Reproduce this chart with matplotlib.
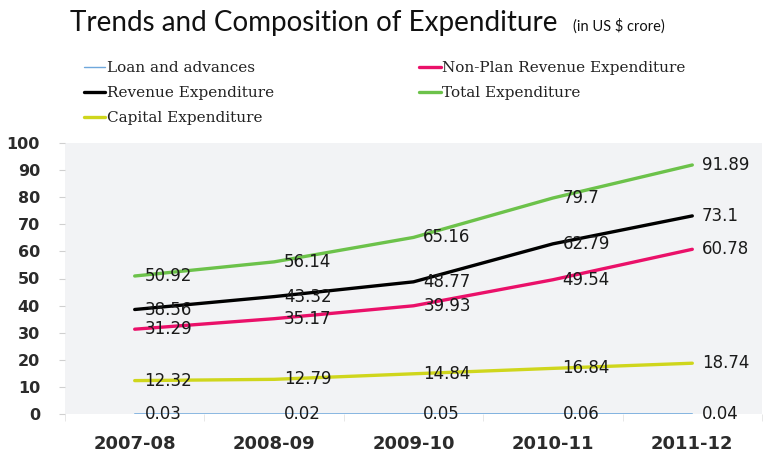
import matplotlib
matplotlib.use('Agg')
import matplotlib.pyplot as plt
import numpy as np

years = ['2007-08', '2008-09', '2009-10', '2010-11', '2011-12']
loan = [0.03, 0.02, 0.05, 0.06, 0.04]
revenue = [38.56, 43.32, 48.77, 62.79, 73.1]
capital = [12.32, 12.79, 14.84, 16.84, 18.74]
nonplan = [31.29, 35.17, 39.93, 49.54, 60.78]
total = [50.92, 56.14, 65.16, 79.7, 91.89]

# legend order (column-wise fill with ncol=2)
series = [
    ('Loan and advances', loan, '#6fa8dc'),
    ('Revenue Expenditure', revenue, '#000000'),
    ('Capital Expenditure', capital, '#cfd61c'),
    ('Non-Plan Revenue Expenditure', nonplan, '#ea1069'),
    ('Total Expenditure', total, '#6cc24a'),
]

fig = plt.figure(figsize=(7.63, 4.55), dpi=100)
ax = fig.add_axes([65/763, 1-414/455, 697/763, 271/455])
ax.set_facecolor('#f2f3f5')
x = np.arange(len(years))

handles = []
for name, vals, col in series:
    loan_line = name == 'Loan and advances'
    h, = ax.plot(x, vals, color=col, lw=1.0 if loan_line else 2.4,
                 solid_capstyle='round', label=name, clip_on=loan_line, zorder=2)
    handles.append(h)
    for xi, v in zip(x, vals):
        ax.annotate(str(v), (xi, v), xytext=(7, 0), textcoords='offset points',
                    ha='left', va='center', fontsize=12, color='#1a1a1a', zorder=3,
                    annotation_clip=False)

ax.set_xlim(-0.5, 4.5)
ax.set_ylim(0, 100)
ax.set_yticks(range(0, 101, 10))
ax.set_xticks(x)
ax.set_xticklabels(years)
ax.set_xticks(np.arange(-0.5, 5, 1), minor=True)
for s in ax.spines.values():
    s.set_visible(False)
ax.tick_params(axis='y', length=4, color='#d0d0d0', pad=14, labelsize=11.5, labelcolor='#2b2b2b')
ax.tick_params(axis='x', which='major', length=0, pad=15, labelsize=13, labelcolor='#2b2b2b')
ax.tick_params(axis='x', which='minor', length=5, color='#e3e3e3')
for lab in ax.get_yticklabels() + ax.get_xticklabels():
    lab.set_fontweight('bold')

fig.text(70/763, 1-23/455, 'Trends and Composition of Expenditure', family='Lato',
         fontsize=20, va='center', ha='left', color='#111111')
fig.text(573/763, 1-26/455, '(in US $ crore)', family='Lato',
         fontsize=10.5, va='center', ha='left', color='#111111')

fig.legend(handles=handles, loc='upper left', bbox_to_anchor=(84/763, 1-61/455),
           ncol=2, frameon=False, prop={'family': 'DejaVu Serif', 'size': 11},
           handlelength=1.4, handletextpad=0.1, columnspacing=9.5,
           labelspacing=0.72, borderpad=0, borderaxespad=0, labelcolor='#222222')

fig.savefig('out.png', dpi=100)
